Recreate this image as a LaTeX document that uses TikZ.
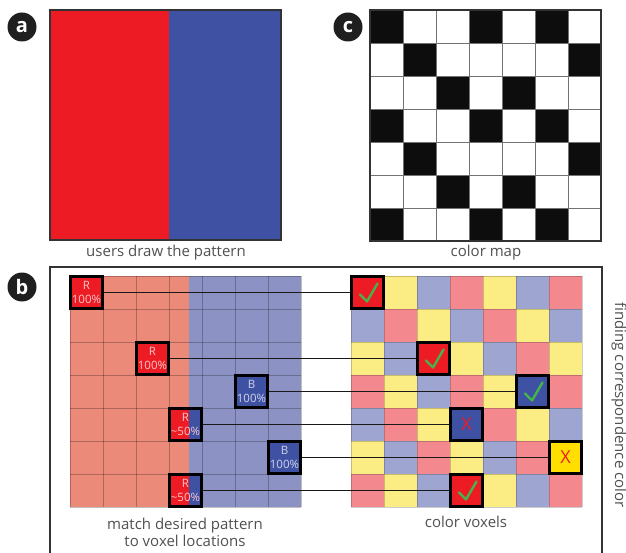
\documentclass[tikz,border=0pt]{standalone}
\usepackage{fontspec}
\setmainfont{Open Sans}
\usetikzlibrary{calc}
\definecolor{pr}{RGB}{237,28,36}
\definecolor{pb}{RGB}{63,81,163}
\definecolor{py}{RGB}{255,222,0}
\definecolor{lr}{RGB}{236,138,122}
\definecolor{lb}{RGB}{140,146,196}
\definecolor{vc0}{RGB}{243,137,143}
\definecolor{vc1}{RGB}{252,236,132}
\definecolor{vc2}{RGB}{158,165,208}
\definecolor{txt}{RGB}{80,80,80}
\definecolor{chkgreen}{RGB}{70,180,75}
\pgfdeclarelayer{grid}\pgfdeclarelayer{conn}\pgfsetlayers{grid,conn,main}
\newcommand\mycheck[1]{\draw[chk] ([shift={(-7.5,2)}]#1.center) -- ([shift={(-0.5,9)}]#1.center) -- ([shift={(10,-9)}]#1.center);}
\begin{document}
\begin{tikzpicture}[x=1pt,y=-1pt,
  badge/.style={circle,fill=black!88,text=white,minimum size=29pt,inner sep=0pt,font=\fontsize{20}{20}\bfseries\selectfont},
  lbl/.style={text=txt,font=\fontsize{15}{17}\selectfont,align=center,inner sep=0pt},
  hbox/.style={draw=black,line width=2.4pt,minimum size=32pt,inner sep=0pt,align=center,font=\fontsize{11.5}{13.5}\selectfont},
  conline/.style={line width=1.3pt,draw=black!90},
  chk/.style={draw=chkgreen,line width=2.4pt,line cap=round,line join=round},
  xmark/.style={text=pr,font=\fontsize{18}{18}\selectfont}]
\useasboundingbox (0,0) rectangle (626,553);
% panel a
\fill[pr] (50,10) rectangle (169,240);
\fill[pb] (169,10) rectangle (281,240);
\draw[black!80,line width=1.2pt] (50,10) rectangle (281,240);
\node[badge] (ba) at (22,27) {a};
\node[lbl] (la) at (166,253) {users draw the pattern};
% panel c
\foreach \r/\cs in {0/{0,3,5},1/{1,6},2/{2,4},3/{0,3,5},4/{1,6},5/{2,4},6/{0,3,5}}{
  \foreach \c in \cs {\fill[black!95] (370+33*\c,10+33*\r) rectangle ++(33,33);}}
\foreach \i in {1,...,6}{
  \draw[black!55,line width=0.9pt] (370+33*\i,10) -- (370+33*\i,241);
  \draw[black!55,line width=0.9pt] (370,10+33*\i) -- (601,10+33*\i);}
\draw[black!80,line width=1.2pt] (370,10) rectangle (601,241);
\node[badge] (bc) at (348,27) {c};
\node[lbl] (lc) at (486,253) {color map};
% panel b frame
\draw[black!80,line width=1.2pt] (50,560) -- (50,267) -- (602,267) -- (602,560);
\node[badge] (bb) at (22,287) {b};
\begin{pgfonlayer}{grid}
  \fill[lr] (70,276) rectangle (189,507);
  \fill[lb] (189,276) rectangle (301,507);
  \foreach \i in {0,...,7}{
    \draw[black,opacity=0.25,line width=1pt] (70+33*\i,276) -- (70+33*\i,507);
    \draw[black,opacity=0.25,line width=1pt] (70,276+33*\i) -- (301,276+33*\i);}
  \foreach \r in {0,...,6}{
    \foreach \c in {0,...,6}{
      \pgfmathtruncatemacro\idx{mod(\c-\r+21,3)}
      \fill[vc\idx] (351+33*\c,276+33*\r) rectangle ++(33,33);}}
  \foreach \i in {0,...,7}{
    \draw[black,opacity=0.2,line width=0.6pt] (351+33*\i,276) -- (351+33*\i,507);
    \draw[black,opacity=0.2,line width=0.6pt] (351,276+33*\i) -- (582,276+33*\i);}
\end{pgfonlayer}
% left highlight boxes
\node[hbox,fill=pr,text=pr!25] (L1) at (86.5,292.5) {R\\100\%};
\node[hbox,fill=pr,text=pr!25] (L2) at (152.5,358.5) {R\\100\%};
\node[hbox,fill=pb,text=pb!25] (L3) at (251.5,391.5) {B\\100\%};
\node[hbox,fill=pr,text=pr!25,path picture={\fill[pb] ([xshift=-13pt]path picture bounding box.north east) rectangle (path picture bounding box.south east);}] (L4) at (185.5,424.5) {R\\\textasciitilde50\%};
\node[hbox,fill=pb,text=pb!25] (L5) at (284.5,457.5) {B\\100\%};
\node[hbox,fill=pr,text=pr!25,path picture={\fill[pb] ([xshift=-13pt]path picture bounding box.north east) rectangle (path picture bounding box.south east);}] (L6) at (185.5,490.5) {R\\\textasciitilde50\%};
% right highlight boxes
\node[hbox,fill=pr] (R1) at (367.5,292.5) {};
\node[hbox,fill=pr] (R2) at (433.5,358.5) {};
\node[hbox,fill=pb] (R3) at (532.5,391.5) {};
\node[hbox,fill=pb,xmark] (R4) at (466.5,424.5) {X};
\node[hbox,fill=py,xmark] (R5) at (565.5,457.5) {X};
\node[hbox,fill=pr] (R6) at (466.5,490.5) {};
\mycheck{R1}
\mycheck{R2}
\mycheck{R3}
\mycheck{R6}
\begin{pgfonlayer}{conn}
  \foreach \k in {1,...,6}{\draw[conline] (L\k.east) -- (R\k.west);}
\end{pgfonlayer}
\node[lbl] (lb1) at (185,532) {match desired pattern\\to voxel locations};
\node[lbl] (lb2) at (466,522) {color voxels};
\node[lbl,rotate=-90] (lv) at (619,405) {finding correspondence color};
\end{tikzpicture}
\end{document}
